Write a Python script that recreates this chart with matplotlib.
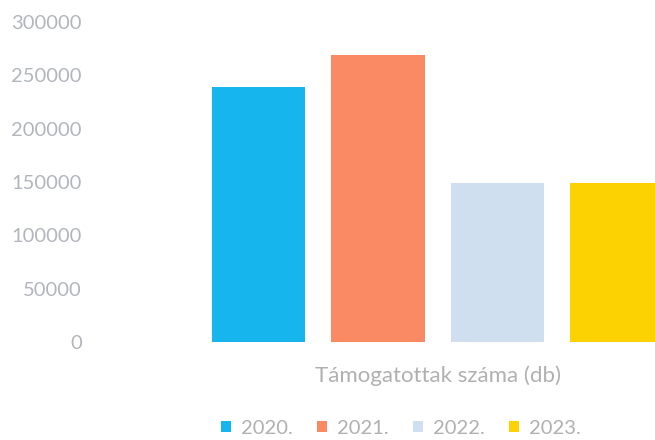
import matplotlib
matplotlib.use("Agg")
import matplotlib.pyplot as plt

# data
years = ["2020.", "2021.", "2022.", "2023."]
values = [239000, 269000, 149000, 149000]
colors = ["#17b5ee", "#fa8a64", "#cfdff0", "#fdd203"]
yticks = [0, 50000, 100000, 150000, 200000, 250000, 300000]

plt.rcParams["font.family"] = ["Lato", "DejaVu Sans"]

W, H = 655, 440
fig = plt.figure(figsize=(W / 100, H / 100), dpi=100)

# plot area in pixels: left 100, right 655, top 22, bottom 342
left_px, right_px, top_px, bot_px = 100, 655, 22, 342
ax = fig.add_axes([left_px / W, 1 - bot_px / H, (right_px - left_px) / W, (bot_px - top_px) / H])

x = list(range(len(years)))
bars = ax.bar(x, values, width=0.78, color=colors, label=years)

# first bar centre ~258px, step ~119.5px
step = 119.5
c0 = 258.5
ax.set_xlim((left_px - c0) / step, (right_px - c0) / step)
ax.set_ylim(0, 300000)

ax.set_yticks(yticks)
ax.set_yticklabels([str(v) for v in yticks])
ax.tick_params(axis="y", length=0, pad=13, labelsize=14.5, labelcolor="#b2b6bc")
ax.set_xticks([])
for s in ax.spines.values():
    s.set_visible(False)

fig.text(438 / W, 1 - 376 / H, "Támogatottak száma (db)", ha="center", va="center",
         fontsize=16, color="#b0b0b0")

fig.legend(bars, years, loc="center", bbox_to_anchor=(401 / W, 1 - 428 / H), ncol=4,
           frameon=False, fontsize=14.5, handlelength=0.5, handleheight=0.5,
           handletextpad=0.5, columnspacing=1.2, labelcolor="#b0b0b0")

fig.savefig("out.png", dpi=100)
